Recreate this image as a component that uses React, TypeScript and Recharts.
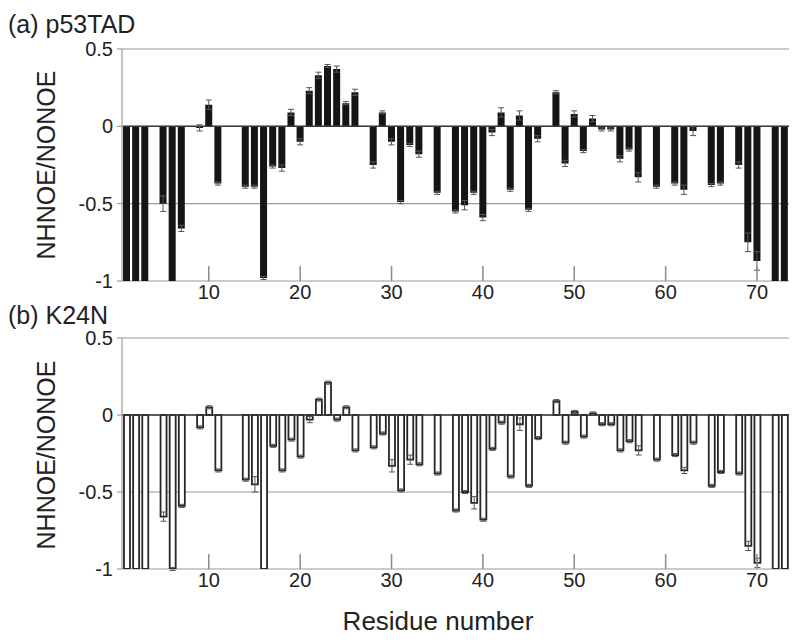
import { BarChart, Bar, XAxis, YAxis, CartesianGrid, ReferenceLine, ErrorBar } from 'recharts';

// residue numbers 1..73 (categories)
const residues = [
  1, 2, 3, 4, 5, 6, 7, 8, 9, 10, 11, 12, 13, 14, 15, 16, 17, 18, 19, 20,
  21, 22, 23, 24, 25, 26, 27, 28, 29, 30, 31, 32, 33, 34, 35, 36, 37, 38, 39, 40,
  41, 42, 43, 44, 45, 46, 47, 48, 49, 50, 51, 52, 53, 54, 55, 56, 57, 58, 59, 60,
  61, 62, 63, 64, 65, 66, 67, 68, 69, 70, 71, 72, 73,
];

// (a) p53TAD, null = no data for that residue
const p53Values = [
  -1, -1, -1, null, -0.5, -1, -0.66, null, -0.01, 0.14,
  -0.37, null, null, -0.39, -0.39, -0.98, -0.26, -0.27, 0.09, -0.1,
  0.23, 0.33, 0.39, 0.37, 0.15, 0.22, null, -0.25, 0.09, -0.1,
  -0.49, -0.12, -0.18, null, -0.43, null, -0.55, -0.51, -0.43, -0.59,
  -0.04, 0.09, -0.41, 0.07, -0.54, -0.08, null, 0.22, -0.24, 0.08,
  -0.16, 0.05, -0.02, -0.02, -0.21, -0.15, -0.33, null, -0.39, null,
  -0.37, -0.41, -0.03, null, -0.38, -0.37, null, -0.25, -0.75, -0.87,
  null, -1, -1,
];
const p53Errors = [
  null, null, null, null, 0.05, null, 0.02, null, 0.02, 0.03,
  0.01, null, null, 0.01, 0.01, 0.01, 0.01, 0.02, 0.02, 0.02,
  0.02, 0.02, 0.01, 0.02, 0.01, 0.02, null, 0.02, 0.01, 0.02,
  0.01, 0.01, 0.02, null, 0.01, null, 0.01, 0.03, 0.01, 0.02,
  0.02, 0.03, 0.01, 0.03, 0.01, 0.02, null, 0.01, 0.02, 0.02,
  0.01, 0.02, 0.01, 0.01, 0.02, 0.01, 0.03, null, 0.01, null,
  0.01, 0.03, 0.03, null, 0.01, 0.01, null, 0.02, 0.06, 0.06,
  null, null, null,
];

// (b) K24N
const k24nValues = [
  -1, -1, -1, null, -0.66, -1, -0.59, null, -0.08, 0.05,
  -0.36, null, null, -0.42, -0.45, -1, -0.2, -0.36, -0.16, -0.27,
  -0.03, 0.1, 0.21, -0.03, 0.05, -0.23, null, -0.21, -0.12, -0.33,
  -0.49, -0.29, -0.32, null, -0.38, null, -0.62, -0.5, -0.57, -0.68,
  -0.22, -0.05, -0.4, -0.06, -0.46, -0.15, null, 0.09, -0.18, 0.02,
  -0.14, 0.01, -0.06, -0.06, -0.23, -0.17, -0.23, null, -0.29, null,
  -0.26, -0.36, -0.18, null, -0.46, -0.37, null, -0.38, -0.85, -0.96,
  null, -1, -1,
];
const k24nErrors = [
  null, null, null, null, 0.03, 0.01, 0.01, null, 0.01, 0.01,
  0.01, null, null, 0.01, 0.05, null, 0.01, 0.01, 0.01, 0.01,
  0.02, 0.01, 0.01, 0.01, 0.01, 0.01, null, 0.01, 0.01, 0.04,
  0.01, 0.03, 0.01, null, 0.01, null, 0.01, 0.01, 0.04, 0.01,
  0.01, 0.01, 0.01, 0.04, 0.01, 0.01, null, 0.01, 0.01, 0.01,
  0.01, 0.01, 0.01, 0.01, 0.01, 0.01, 0.03, null, 0.01, null,
  0.01, 0.02, 0.01, null, 0.01, 0.01, null, 0.01, 0.03, 0.03,
  null, null, null,
];

const xTicks = [10, 20, 30, 40, 50, 60, 70];
const yTicks = [-1, -0.5, 0, 0.5];

const FONT = '"Liberation Sans", Arial, sans-serif';

function Panel({ values, errors, top, height, plotTop, plotBottom, hollow }: {
  values: (number | null)[];
  errors: (number | null)[];
  top: number;
  height: number;
  plotTop: number;
  plotBottom: number;
  hollow?: boolean;
}) {
  const data = residues.map((res, i) => ({ res, value: values[i], err: errors[i] }));
  const axisY = plotBottom - top;

  const XTick = (props: any) => {
    const { x, payload } = props;
    return (
      <g>
        <line x1={x} x2={x} y1={axisY} y2={axisY - 15} stroke="#8a8a8a" strokeWidth={1.5} />
        <text x={x} y={axisY + 18} textAnchor="middle" fontSize={20} fontFamily={FONT} fill="#222">
          {payload.value}
        </text>
      </g>
    );
  };

  return (
    <div style={{ position: 'absolute', left: 0, top }}>
      <BarChart
        width={800}
        height={height}
        data={data}
        margin={{ top: plotTop - top, right: 11, left: 0, bottom: 0 }}
        barCategoryGap={0}
      >
        <CartesianGrid vertical={false} stroke="#9a9a9a" strokeWidth={1.2} />
        <XAxis
          dataKey="res"
          type="category"
          ticks={xTicks}
          interval={0}
          height={height - axisY}
          axisLine={false}
          tickLine={false}
          tick={XTick}
        />
        <YAxis
          type="number"
          domain={[-1, 0.5]}
          ticks={yTicks}
          width={122}
          allowDataOverflow
          axisLine={{ stroke: '#b0b0b0', strokeWidth: 1.5 }}
          tickLine={{ stroke: '#8a8a8a' }}
          tickSize={5}
          tickMargin={4}
          tick={{ fontSize: 20, fontFamily: FONT, fill: '#222' }}
        />
        <ReferenceLine y={0} stroke="#3a3a3a" strokeWidth={1.5} />
        <Bar
          dataKey="value"
          barSize={hollow ? 6 : 7}
          fill={hollow ? '#ffffff' : '#151515'}
          stroke={hollow ? '#262626' : undefined}
          strokeWidth={hollow ? 1.8 : 0}
          isAnimationActive={false}
        >
          <ErrorBar dataKey="err" width={3} stroke="#555" strokeWidth={1} direction="y" />
        </Bar>
      </BarChart>
    </div>
  );
}

export default function App() {
  return (
    <div style={{ position: 'absolute', left: 0, top: 0, width: 800, height: 642, background: '#fff', overflow: 'hidden' }}>
      <Panel values={p53Values} errors={p53Errors} top={0} height={310} plotTop={49} plotBottom={281} />
      <Panel values={k24nValues} errors={k24nErrors} top={310} height={300} plotTop={338} plotBottom={569} hollow />
      <svg width={800} height={642} style={{ position: 'absolute', left: 0, top: 0, pointerEvents: 'none' }}>
        <text x={8} y={33} fontSize={25} fontFamily={FONT} fill="#222">(a) p53TAD</text>
        <text x={8} y={324} fontSize={25} fontFamily={FONT} fill="#222">(b) K24N</text>
        <text
          x={46}
          y={165}
          fontSize={25}
          fontFamily={FONT}
          fill="#222"
          textAnchor="middle"
          dominantBaseline="central"
          transform="rotate(-90 46 165)"
        >
          NHNOE/NONOE
        </text>
        <text
          x={46}
          y={455}
          fontSize={25}
          fontFamily={FONT}
          fill="#222"
          textAnchor="middle"
          dominantBaseline="central"
          transform="rotate(-90 46 455)"
        >
          NHNOE/NONOE
        </text>
        <text x={438} y={630} fontSize={26} fontFamily={FONT} fill="#222" textAnchor="middle">Residue number</text>
      </svg>
    </div>
  );
}
